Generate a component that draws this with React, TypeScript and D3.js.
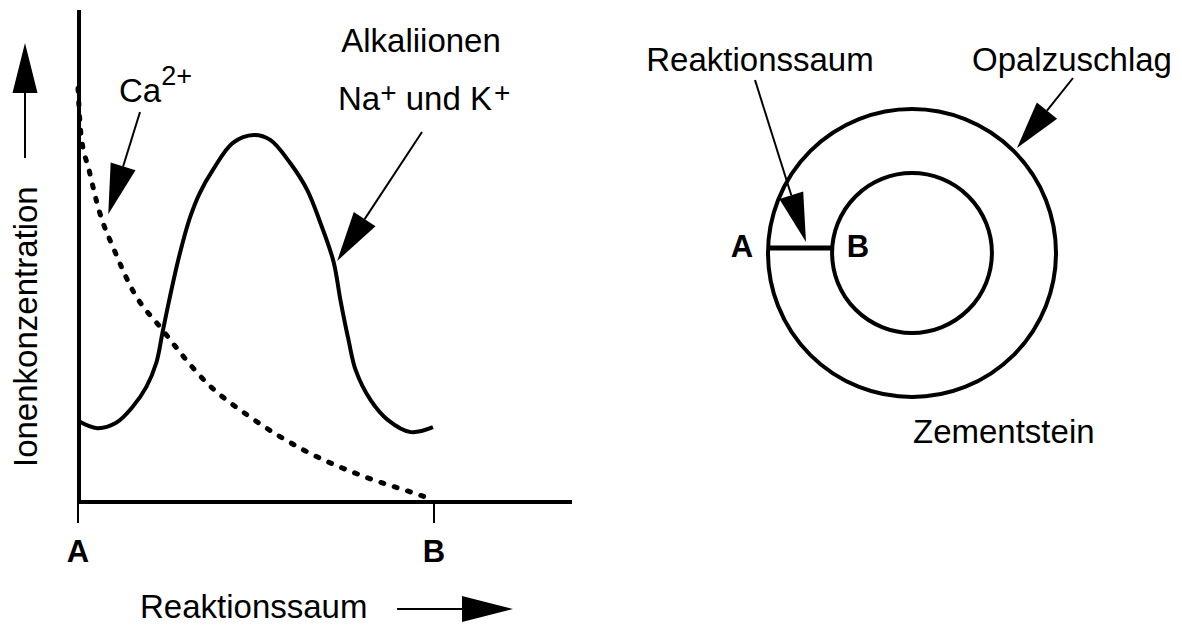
import React, { useEffect, useRef } from 'react'
import * as d3 from 'd3'

// Position im Reaktionssaum (A = 0, B = 100) und relative Ionenkonzentration (0..100)
const caX = [0, 0.8, 3.1, 5.9, 10.2, 15.3, 23.7, 36.2, 48.3, 63.3, 81.4, 94.4, 100]
const caY = [84.1, 75, 67.5, 59.3, 51.2, 43.1, 35, 24.2, 17.3, 10.6, 4.9, 1.8, 0.4]

const alkaliX = [0, 5.4, 10.7, 15.3, 19.2, 22.0, 23.7, 25.7, 28.5, 31.4, 34.2, 37.9, 43.5, 49.4, 54.0,
    59.6, 64.4, 68.1, 71.8, 73.7, 76.0, 78.0, 82.2, 87.0, 93.5, 99.7]
const alkaliY = [16.5, 15.0, 16.1, 19.3, 23.4, 28.3, 34.3, 41.3, 50.2, 57.7, 62.8, 67.5, 73.0, 74.6, 73.6,
    68.9, 63.4, 56.7, 48.8, 41.1, 32.9, 26.8, 20.7, 16.7, 14.2, 15.2]

const xTickValues = [0, 100]
const xTickLabels = ['A', 'B']

// Querschnitt: Opalzuschlag (außen) und unreagierter Kern, relativ zum Kornradius
const ringNames = ['Opalzuschlag', 'Kern']
const ringRadii = [1, 0.555]

const width = 1182
const height = 626
const font = "'Liberation Sans', Arial, Helvetica, sans-serif"

const App = () => {
    const svgRef = useRef()

    useEffect(() => {
        const svg = d3.select(svgRef.current)
        svg.selectAll('*').remove()

        const x = d3.scaleLinear().domain([0, 100]).range([78, 434])
        const y = d3.scaleLinear().domain([0, 100]).range([502, 10])

        // arrow: thin shaft + filled triangle head
        const arrow = (x1, y1, x2, y2, len = 50, half = 13) => {
            const a = Math.atan2(y2 - y1, x2 - x1)
            const bx = x2 - len * Math.cos(a)
            const by = y2 - len * Math.sin(a)
            svg.append('line')
                .attr('x1', x1).attr('y1', y1).attr('x2', bx).attr('y2', by)
                .attr('stroke', '#000').attr('stroke-width', 2)
            svg.append('path')
                .attr('d', `M${x2},${y2}L${bx + half * Math.sin(a)},${by - half * Math.cos(a)}L${bx - half * Math.sin(a)},${by + half * Math.cos(a)}Z`)
                .attr('fill', '#000')
        }

        const text = (tx, ty, s, anchor = 'start', size = 33, weight = 'normal') =>
            svg.append('text')
                .attr('x', tx).attr('y', ty)
                .attr('text-anchor', anchor)
                .attr('font-family', font)
                .attr('font-size', size)
                .attr('font-weight', weight)
                .attr('fill', '#000')
                .text(s)

        // axes
        svg.append('line')
            .attr('x1', x(0) + 1).attr('y1', y(100)).attr('x2', x(0) + 1).attr('y2', y(0) + 2)
            .attr('stroke', '#000').attr('stroke-width', 4)
        svg.append('line')
            .attr('x1', x(0) - 1).attr('y1', y(0)).attr('x2', 572).attr('y2', y(0))
            .attr('stroke', '#000').attr('stroke-width', 4)

        svg.selectAll('.tick')
            .data(xTickValues)
            .enter()
            .append('line')
            .attr('class', 'tick')
            .attr('x1', d => x(d)).attr('x2', d => x(d))
            .attr('y1', y(0)).attr('y2', y(0) + 21)
            .attr('stroke', '#000').attr('stroke-width', 2)

        svg.selectAll('.tick-label')
            .data(xTickValues)
            .enter()
            .append('text')
            .attr('class', 'tick-label')
            .attr('x', d => x(d))
            .attr('y', 562)
            .attr('text-anchor', 'middle')
            .attr('font-family', font)
            .attr('font-size', 31)
            .attr('font-weight', 'bold')
            .text((d, i) => xTickLabels[i])

        // curves
        const ca = caX.map((v, i) => [v, caY[i]])
        const alkali = alkaliX.map((v, i) => [v, alkaliY[i]])

        const line = d3.line().x(d => x(d[0])).y(d => y(d[1]))

        svg.append('path')
            .datum(ca)
            .attr('d', line.curve(d3.curveMonotoneX))
            .attr('fill', 'none')
            .attr('stroke', '#000')
            .attr('stroke-width', 5)
            .attr('stroke-linecap', 'round')
            .attr('stroke-dasharray', '3 11')

        svg.append('path')
            .datum(alkali)
            .attr('d', line.curve(d3.curveCatmullRom))
            .attr('fill', 'none')
            .attr('stroke', '#000')
            .attr('stroke-width', 4)

        // axis titles
        text(0, 0, 'Ionenkonzentration')
            .attr('transform', 'translate(37,467) rotate(-90)')
        arrow(25, 158, 25, 43, 50, 12.5)

        text(140, 618, 'Reaktionssaum')
        arrow(397, 609, 513, 609, 51, 13)

        // curve labels
        const caLabel = text(119, 102, 'Ca')
        caLabel.append('tspan').attr('font-size', 27).attr('dy', -17).text('2+')
        arrow(140, 112, x(8.5), y(58.5))

        text(421, 52, 'Alkaliionen', 'middle')
        const naLabel = text(338, 110, 'Na')
        naLabel.append('tspan').attr('font-size', 28).attr('dy', -8).text('+')
        naLabel.append('tspan').attr('font-size', 33).attr('dy', 8).text(' und K')
        naLabel.append('tspan').attr('font-size', 28).attr('dy', -8).attr('dx', 2).text('+')
        arrow(422, 132, x(72.8), y(49))

        // cross-section of the opal grain
        const cx = 912
        const cy = 253
        const r = d3.scaleLinear().domain([0, 1]).range([0, 144])

        svg.selectAll('.ring')
            .data(ringRadii)
            .enter()
            .append('circle')
            .attr('class', 'ring')
            .attr('cx', cx)
            .attr('cy', cy)
            .attr('r', d => r(d))
            .attr('fill', 'none')
            .attr('stroke', '#000')
            .attr('stroke-width', 4)
            .append('title')
            .text((d, i) => ringNames[i])

        const sy = cy - 5
        const ax = cx - Math.sqrt(r(ringRadii[0]) ** 2 - 25)
        const bx = cx - Math.sqrt(r(ringRadii[1]) ** 2 - 25)
        svg.append('line')
            .attr('x1', ax).attr('y1', sy).attr('x2', bx).attr('y2', sy)
            .attr('stroke', '#000').attr('stroke-width', 5)

        text(742, 257, 'A', 'middle', 31, 'bold')
        text(858, 257, 'B', 'middle', 31, 'bold')

        text(760, 71, 'Reaktionssaum', 'middle')
        arrow(755, 80, 806, 242, 49, 12.5)

        text(972, 71, 'Opalzuschlag')
        arrow(1073, 78, 1017, 148, 48, 13)

        text(913, 443, 'Zementstein')
    }, [])

    return (
        <svg
            ref={svgRef}
            width={width}
            height={height}
            style={{ position: 'absolute', left: 0, top: 0, background: '#fff' }}
        ></svg>
    )
}

export default App
